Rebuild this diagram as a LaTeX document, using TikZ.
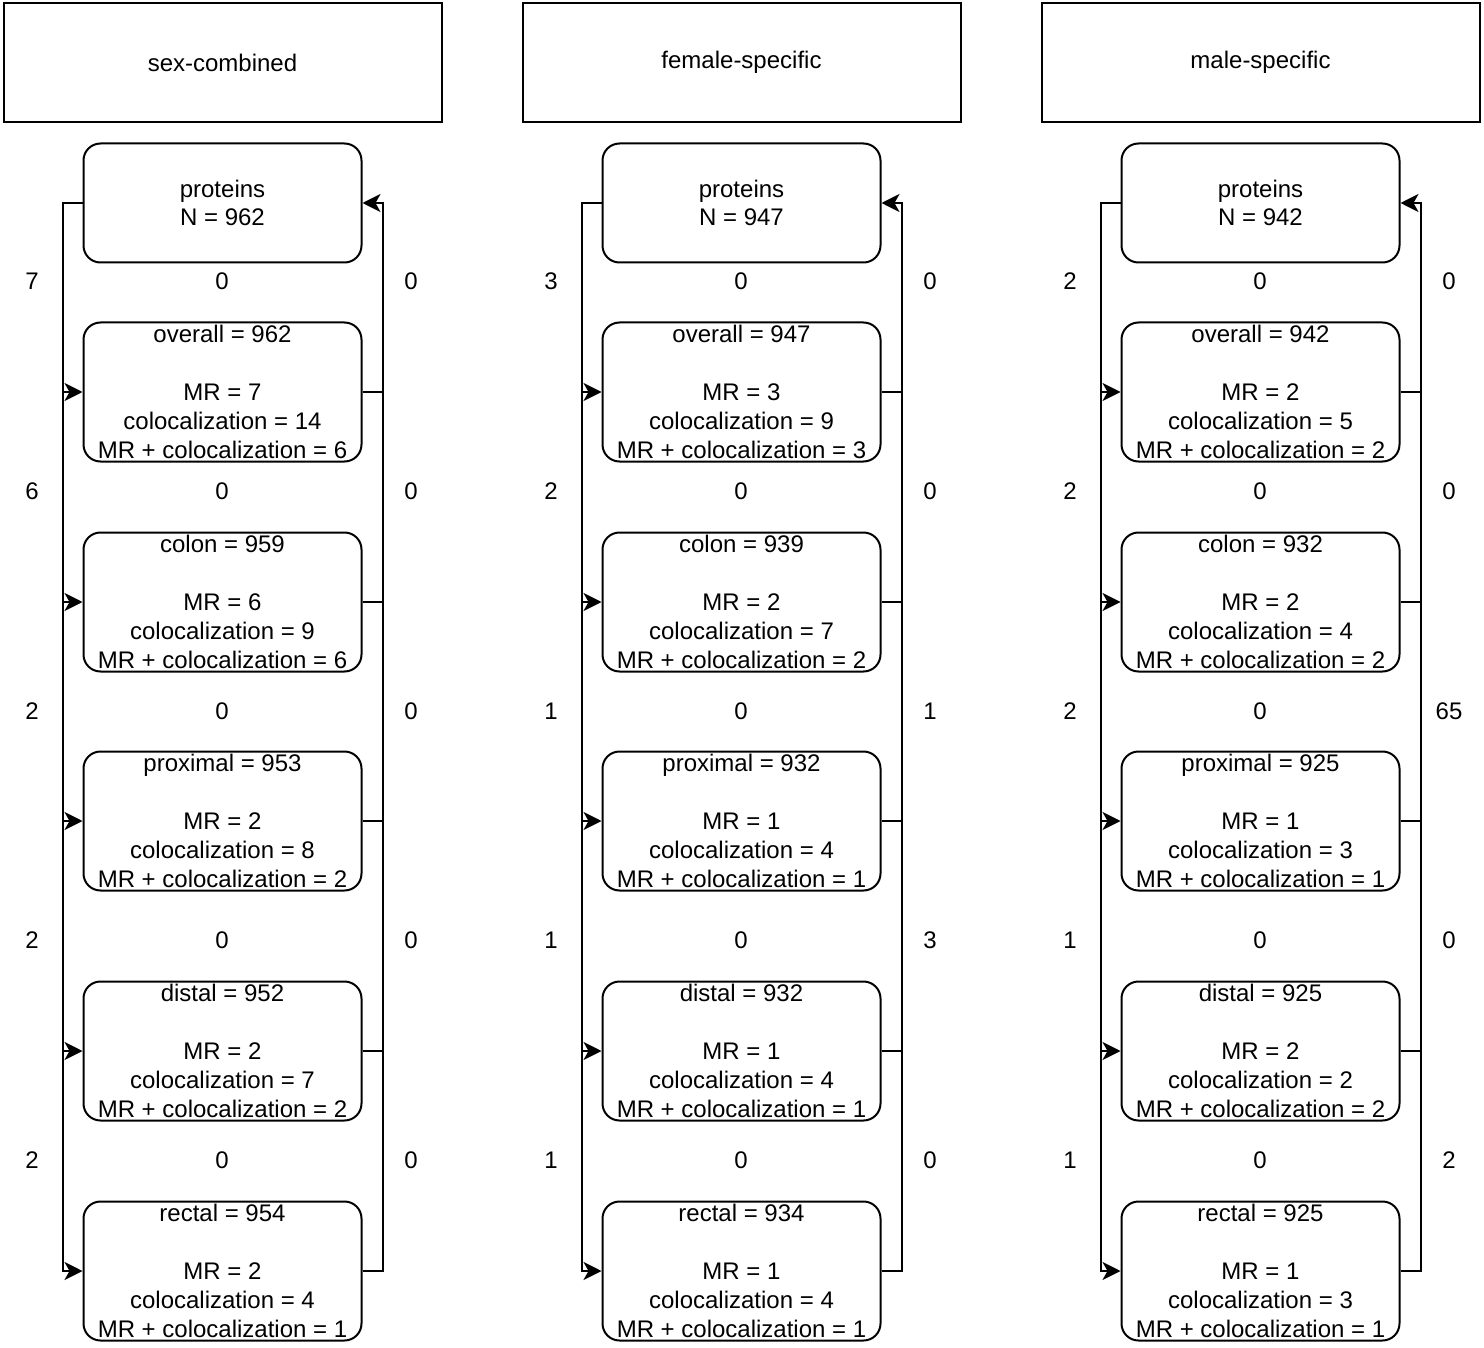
\documentclass[tikz,border=0pt]{standalone}
\usepackage{fontspec}
\setmainfont{Liberation Sans}
\usetikzlibrary{arrows.meta}

\tikzset{
	headbox/.style={draw, line width=1pt, minimum width=219pt, minimum height=59.5pt, inner sep=0pt},
	databox/.style={draw, line width=1pt, rounded corners=8.5pt, minimum width=139pt, minimum height=69.5pt, inner sep=0pt, align=center},
	protbox/.style={databox, minimum height=59.5pt},
	link/.style={line width=1pt},
	feed/.style={line width=1pt, -{Stealth[length=9pt,width=9pt,inset=2.5pt]}},
	count/.style={inner sep=0pt}
}

\begin{document}
\begin{tikzpicture}[x=0.5pt,y=-0.5pt,font=\fontsize{12}{14.4}\selectfont]
		\useasboundingbox (0,0) rectangle (1484,1348);

		% sex-combined
		\node[headbox](comb-head) at (222.5,62.5){sex-combined};
		\node[protbox](comb-prot) at (222.5,203){proteins\\N = 962};
		\node[databox](comb-ovr) at (222.5,392){overall = 962\\[14.4pt]MR = 7\\colocalization = 14\\MR + colocalization = 6};
		\node[databox](comb-colon) at (222.5,602){colon = 959\\[14.4pt]MR = 6\\colocalization = 9\\MR + colocalization = 6};
		\node[databox](comb-prox) at (222.5,821){proximal = 953\\[14.4pt]MR = 2\\colocalization = 8\\MR + colocalization = 2};
		\node[databox](comb-dist) at (222.5,1051){distal = 952\\[14.4pt]MR = 2\\colocalization = 7\\MR + colocalization = 2};
		\node[databox](comb-rect) at (222.5,1271){rectal = 954\\[14.4pt]MR = 2\\colocalization = 4\\MR + colocalization = 1};
		\foreach \y/\l/\m/\r in {281/7/0/0, 491/6/0/0, 711/2/0/0, 940/2/0/0, 1160/2/0/0}{
			\node[count](comb-l\y) at (32,\y){\l};
			\node[count](comb-m\y) at (222,\y){\m};
			\node[count](comb-r\y) at (411,\y){\r};
		}

		% female-specific
		\node[headbox](fem-head) at (741.5,62.5){female-specific};
		\node[protbox](fem-prot) at (741.5,203){proteins\\N = 947};
		\node[databox](fem-ovr) at (741.5,392){overall = 947\\[14.4pt]MR = 3\\colocalization = 9\\MR + colocalization = 3};
		\node[databox](fem-colon) at (741.5,602){colon = 939\\[14.4pt]MR = 2\\colocalization = 7\\MR + colocalization = 2};
		\node[databox](fem-prox) at (741.5,821){proximal = 932\\[14.4pt]MR = 1\\colocalization = 4\\MR + colocalization = 1};
		\node[databox](fem-dist) at (741.5,1051){distal = 932\\[14.4pt]MR = 1\\colocalization = 4\\MR + colocalization = 1};
		\node[databox](fem-rect) at (741.5,1271){rectal = 934\\[14.4pt]MR = 1\\colocalization = 4\\MR + colocalization = 1};
		\foreach \y/\l/\m/\r in {281/3/0/0, 491/2/0/0, 711/1/0/1, 940/1/0/3, 1160/1/0/0}{
			\node[count](fem-l\y) at (551,\y){\l};
			\node[count](fem-m\y) at (741,\y){\m};
			\node[count](fem-r\y) at (930,\y){\r};
		}

		% male-specific
		\node[headbox](male-head) at (1260.5,62.5){male-specific};
		\node[protbox](male-prot) at (1260.5,203){proteins\\N = 942};
		\node[databox](male-ovr) at (1260.5,392){overall = 942\\[14.4pt]MR = 2\\colocalization = 5\\MR + colocalization = 2};
		\node[databox](male-colon) at (1260.5,602){colon = 932\\[14.4pt]MR = 2\\colocalization = 4\\MR + colocalization = 2};
		\node[databox](male-prox) at (1260.5,821){proximal = 925\\[14.4pt]MR = 1\\colocalization = 3\\MR + colocalization = 1};
		\node[databox](male-dist) at (1260.5,1051){distal = 925\\[14.4pt]MR = 2\\colocalization = 2\\MR + colocalization = 2};
		\node[databox](male-rect) at (1260.5,1271){rectal = 925\\[14.4pt]MR = 1\\colocalization = 3\\MR + colocalization = 1};
		\foreach \y/\l/\m/\r in {281/2/0/0, 491/2/0/0, 711/2/0/65, 940/1/0/0, 1160/1/0/2}{
			\node[count](male-l\y) at (1070,\y){\l};
			\node[count](male-m\y) at (1260,\y){\m};
			\node[count](male-r\y) at (1449,\y){\r};
		}

		% connectors
		\foreach \c in {comb,fem,male}{
			\draw[feed](\c-prot.west) -- ++(-10pt,0) |- (\c-rect.west);
			\draw[feed](\c-rect.east) -- ++(10pt,0) |- (\c-prot.east);
			\foreach \b in {ovr,colon,prox,dist}{
				\draw[feed]([xshift=-10pt]\c-\b.west) -- (\c-\b.west);
				\draw[link](\c-\b.east) -- ++(10pt,0);
			}
		}
	\end{tikzpicture}
\end{document}
